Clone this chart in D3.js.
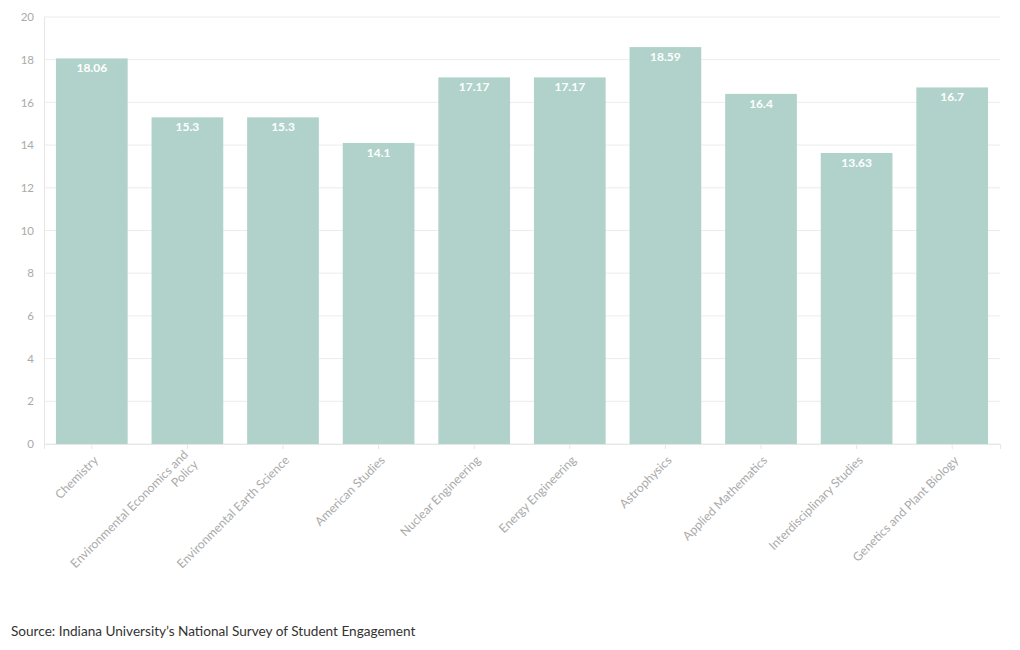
<!DOCTYPE html>
<html>
<head>
<meta charset="utf-8">
<script src="https://cdn.jsdelivr.net/npm/d3@7"></script>
<style>
  body { margin: 0; background: #fff; font-family: Lato, "Open Sans", sans-serif; }
</style>
</head>
<body>
<div id="chart"></div>
<script>
// data
var majors = ["Chemistry", "Environmental Economics and Policy", "Environmental Earth Science",
  "American Studies", "Nuclear Engineering", "Energy Engineering", "Astrophysics",
  "Applied Mathematics", "Interdisciplinary Studies", "Genetics and Plant Biology"];
var hours = [18.06, 15.3, 15.3, 14.1, 17.17, 17.17, 18.59, 16.4, 13.63, 16.7];
var yTicks = [0, 2, 4, 6, 8, 10, 12, 14, 16, 18, 20];
var source = "Source: Indiana University\u2019s National Survey of Student Engagement";

var margin = { top: 17, right: 20, bottom: 206, left: 44 },
    width = 1020 - margin.left - margin.right,
    height = 650 - margin.top - margin.bottom;

var svg = d3.select("#chart").append("svg")
    .attr("width", 1020)
    .attr("height", 650);

var g = svg.append("g")
    .attr("transform", "translate(" + margin.left + "," + margin.top + ")");

var x = d3.scaleBand()
    .domain(majors)
    .range([0, width])
    .paddingInner(0.25)
    .paddingOuter(0.125);

var y = d3.scaleLinear()
    .domain([0, 20])
    .range([height, 0]);

// gridlines
g.append("g")
    .selectAll("line")
    .data(yTicks)
    .enter().append("line")
    .attr("x1", 0)
    .attr("x2", width)
    .attr("y1", function(d) { return y(d); })
    .attr("y2", function(d) { return y(d); })
    .attr("stroke", "#ececec")
    .attr("stroke-width", 1);

// y axis
var yAxis = g.append("g")
    .call(d3.axisLeft(y).tickValues(yTicks).tickSize(0).tickPadding(10));
yAxis.select(".domain").attr("stroke", "#e6e6e6");
yAxis.selectAll("text")
    .attr("fill", "#aaa")
    .style("font-size", "11.5px")
    .style("font-family", "Lato, sans-serif");

// bars
g.selectAll("rect.bar")
    .data(hours)
    .enter().append("rect")
    .attr("class", "bar")
    .attr("x", function(d, i) { return x(majors[i]); })
    .attr("y", function(d) { return y(d); })
    .attr("width", x.bandwidth())
    .attr("height", function(d) { return height - y(d); })
    .attr("fill", "#b0d2ca");

// value labels
g.selectAll("text.val")
    .data(hours)
    .enter().append("text")
    .attr("class", "val")
    .attr("x", function(d, i) { return x(majors[i]) + x.bandwidth() / 2; })
    .attr("y", function(d) { return y(d) + 14; })
    .attr("text-anchor", "middle")
    .attr("fill", "#fff")
    .style("font-size", "12px")
    .style("font-weight", "bold")
    .style("font-family", "Lato, sans-serif")
    .text(function(d) { return d; });

// x axis
var xAxis = g.append("g")
    .attr("transform", "translate(0," + height + ")")
    .call(d3.axisBottom(x).tickSize(5).tickPadding(4));
xAxis.select(".domain").attr("stroke", "#e6e6e6");
xAxis.selectAll(".tick line").attr("stroke", "#e6e6e6");
xAxis.selectAll(".tick text").remove();

xAxis.selectAll(".tick").each(function(d) {
  var lines = d === "Environmental Economics and Policy"
      ? ["Environmental Economics and", "Policy"] : [d];
  var t = d3.select(this).append("text")
      .attr("transform", "translate(4,14) rotate(-45)")
      .attr("text-anchor", "end")
      .attr("fill", "#aaa")
      .style("font-size", "12.2px")
      .style("font-family", "Lato, sans-serif");
  lines.forEach(function(l, i) {
    t.append("tspan")
        .attr("x", 0)
        .attr("dy", i === 0 ? (lines.length > 1 ? "-0.3em" : "0.35em") : "1.15em")
        .text(l);
  });
});

// source note
svg.append("text")
    .attr("x", 11)
    .attr("y", 636)
    .attr("fill", "#333")
    .style("font-size", "13.6px")
    .style("font-family", "Lato, sans-serif")
    .text(source);
</script>
</body>
</html>
